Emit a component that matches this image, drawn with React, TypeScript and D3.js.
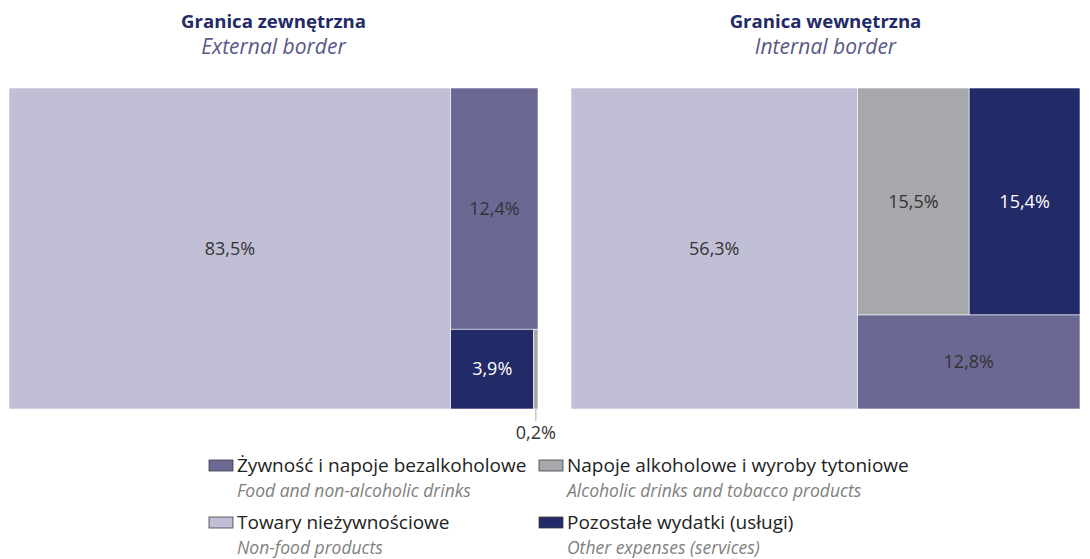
import { useEffect, useRef } from 'react'
import * as d3 from 'd3'

// categories (index order used everywhere below)
const categoriesPl = [
  'Żywność i napoje bezalkoholowe',
  'Napoje alkoholowe i wyroby tytoniowe',
  'Towary nieżywnościowe',
  'Pozostałe wydatki (usługi)',
]
const categoriesEn = [
  'Food and non-alcoholic drinks',
  'Alcoholic drinks and tobacco products',
  'Non-food products',
  'Other expenses (services)',
]
const colors = ['#6b6893', '#a7a8ab', '#c1bfd6', '#222a68']
const labelColors = ['#333333', '#333333', '#333333', '#ffffff']

// shares in %
const externalValues = [12.4, 0.2, 83.5, 3.9]
const internalValues = [12.8, 15.5, 56.3, 15.4]

// how the tiles are grouped in each treemap (indices into the arrays above)
const externalNesting = [2, [0, [3, 1]]]
const internalNesting = [2, [[1, 3], 0]]

const panels = [
  { title: 'Granica zewnętrzna', subtitle: 'External border', values: externalValues, nesting: externalNesting },
  { title: 'Granica wewnętrzna', subtitle: 'Internal border', values: internalValues, nesting: internalNesting },
]

// legend order: rows of [left, right]
const legendOrder = [0, 1, 2, 3]

const FONT = '"Open Sans", "Noto Sans", sans-serif'

type Node = { idx?: number; value?: number; children?: Node[] }

function build(nest: any, values: number[]): Node {
  if (Array.isArray(nest)) return { children: nest.map(n => build(n, values)) }
  return { idx: nest, value: values[nest] }
}

export default function App() {
  const svgRef = useRef<SVGSVGElement>(null)

  useEffect(() => {
    if (!svgRef.current) return
    const svg = d3.select(svgRef.current)
    svg.selectAll('*').remove()

    const top = 88
    const bottom = 409
    const panelX: [number, number][] = [[9, 538], [571, 1080]]

    panels.forEach((p, pi) => {
      const [x0, x1] = panelX[pi]
      const cx = (x0 + x1) / 2

      svg.append('text')
        .attr('x', cx).attr('y', 28)
        .attr('text-anchor', 'middle')
        .attr('font-family', FONT)
        .attr('font-weight', 700)
        .attr('font-size', 18.6)
        .attr('fill', '#222a68')
        .text(p.title)

      svg.append('text')
        .attr('x', cx).attr('y', 54)
        .attr('text-anchor', 'middle')
        .attr('font-family', FONT)
        .attr('font-style', 'italic')
        .attr('font-size', 21)
        .attr('fill', '#585889')
        .text(p.subtitle)

      const root = d3.hierarchy<Node>(build(p.nesting, p.values))
        .sum(d => d.value ?? 0)

      d3.treemap<Node>()
        .tile(d3.treemapSliceDice)
        .size([x1 - x0, bottom - top])
        .round(false)(root)

      const g = svg.append('g').attr('transform', `translate(${x0},${top})`)
      const leaves = root.leaves() as d3.HierarchyRectangularNode<Node>[]

      g.selectAll('rect')
        .data(leaves)
        .join('rect')
        .attr('x', d => d.x0)
        .attr('y', d => d.y0)
        .attr('width', d => d.x1 - d.x0)
        .attr('height', d => d.y1 - d.y0)
        .attr('fill', d => colors[d.data.idx!])
        .attr('stroke', '#ffffff')
        .attr('stroke-width', 0.6)

      leaves.forEach(d => {
        const label = d3.format('.1f')(d.data.value!).replace('.', ',') + '%'
        const mx = (d.x0 + d.x1) / 2
        const my = (d.y0 + d.y1) / 2
        if (d.x1 - d.x0 < 20) {
          // too small: label below with leader line
          g.append('line')
            .attr('x1', mx).attr('x2', mx)
            .attr('y1', d.y1).attr('y2', d.y1 + 12)
            .attr('stroke', '#a6a6a6')
            .attr('stroke-width', 1)
          g.append('text')
            .attr('x', mx).attr('y', d.y1 + 30)
            .attr('text-anchor', 'middle')
            .attr('font-family', FONT)
            .attr('font-size', 18)
            .attr('fill', '#333333')
            .text(label)
        } else {
          g.append('text')
            .attr('x', mx).attr('y', my)
            .attr('dy', '0.35em')
            .attr('text-anchor', 'middle')
            .attr('font-family', FONT)
            .attr('font-size', 18)
            .attr('fill', labelColors[d.data.idx!])
            .text(label)
        }
      })
    })

    // Legend
    const colX = [209, 539]
    const rowY = [472, 529]
    legendOrder.forEach((ci, i) => {
      const x = colX[i % 2]
      const y = rowY[Math.floor(i / 2)]
      svg.append('rect')
        .attr('x', x).attr('y', y - 12)
        .attr('width', 24).attr('height', 11)
        .attr('fill', colors[ci])
        .attr('stroke', '#404040')
        .attr('stroke-width', 0.8)
      svg.append('text')
        .attr('x', x + 28).attr('y', y)
        .attr('font-family', FONT)
        .attr('font-size', 19)
        .attr('fill', '#222222')
        .text(categoriesPl[ci])
      svg.append('text')
        .attr('x', x + 28).attr('y', y + 25)
        .attr('font-family', FONT)
        .attr('font-style', 'italic')
        .attr('font-size', 17.5)
        .attr('fill', '#808080')
        .text(categoriesEn[ci])
    })
  }, [])

  return (
    <svg
      ref={svgRef}
      width={1090}
      height={559}
      style={{ position: 'absolute', left: 0, top: 0, background: '#fff' }}
    />
  )
}
